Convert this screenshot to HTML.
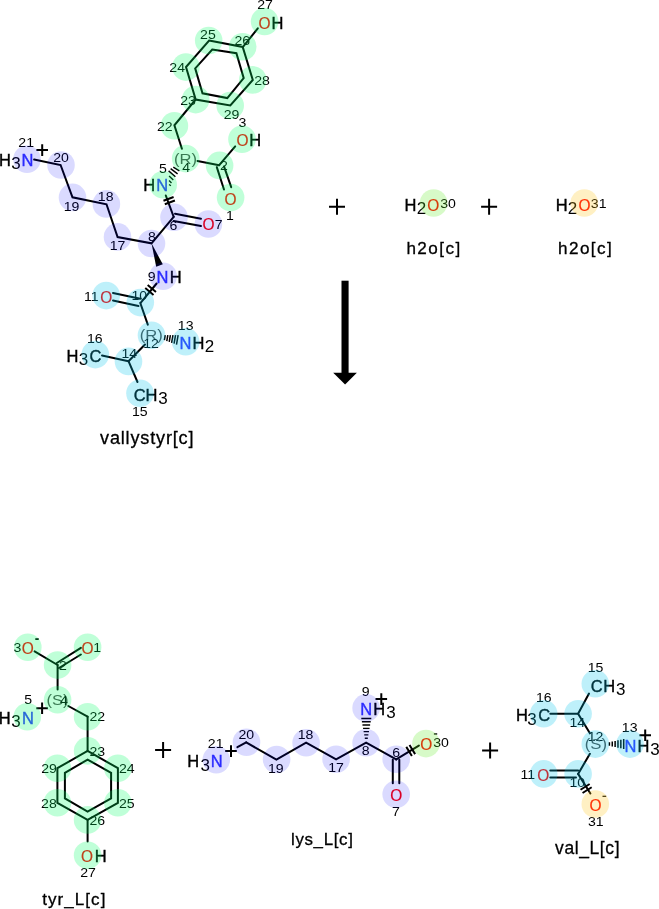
<!DOCTYPE html>
<html><head><meta charset="utf-8"><style>
html,body{margin:0;padding:0;background:#fff;}
svg{display:block;will-change:transform;}
text{font-family:"Liberation Sans",sans-serif;}
</style></head><body>
<svg width="659" height="909" viewBox="0 0 659 909">
<rect width="659" height="909" fill="#fff"/>
<path d="M209.1 40.5 L242.7 46.9 L252.8 79.9 L230.3 105.5 L195.7 99.5 L186 67.1 Z" fill="none" stroke="#000" stroke-width="2" stroke-linejoin="miter" stroke-linecap="round"/>
<path d="M212.2 49.6 L236.4 53.2 L243.7 78.1 L227.3 98.1 L202.5 93.3 L195.2 68.4 Z" fill="none" stroke="#000" stroke-width="2" stroke-linejoin="miter" stroke-linecap="round"/>
<line x1="243" y1="46.9" x2="257.8" y2="28.4" stroke="#000" stroke-width="2" stroke-linecap="round"/>
<path d="M195.7 99.5 L174.4 125.3 L181.9 148.7" fill="none" stroke="#000" stroke-width="2" stroke-linejoin="miter" stroke-linecap="round"/>
<line x1="197.5" y1="160.9" x2="219.2" y2="165.2" stroke="#000" stroke-width="2" stroke-linecap="round"/>
<line x1="219.2" y1="165.2" x2="235.2" y2="146.4" stroke="#000" stroke-width="2" stroke-linecap="round"/>
<line x1="216.8" y1="167.1" x2="224" y2="189.5" stroke="#000" stroke-width="2" stroke-linecap="round"/>
<line x1="224" y1="166.4" x2="231.2" y2="187.2" stroke="#000" stroke-width="2" stroke-linecap="round"/>
<path d="M173.3 167.2L179.4 170.9M170.6 168.6L177.6 173.9M168.6 170.9L175.4 176.8M169.1 176L173.3 180M169.1 180.6L171.5 183M169.1 184.5L170.9 185.8" stroke="#000" stroke-width="1.4"/>
<line x1="165.8" y1="195.5" x2="173.7" y2="216.8" stroke="#000" stroke-width="2" stroke-linecap="round"/>
<path d="M163.48 200.7L173.6 196.94M164.8 204.26L174.92 200.5" stroke="#000" stroke-width="2"/>
<line x1="175" y1="213.7" x2="201" y2="218.7" stroke="#000" stroke-width="2" stroke-linecap="round"/>
<line x1="173.7" y1="221" x2="201" y2="226" stroke="#000" stroke-width="2" stroke-linecap="round"/>
<path d="M173.7 216.8 L151.5 243.3 L117.6 237 L106.5 204.3 L72.5 197.3 L60.6 165 L34.1 159.6" fill="none" stroke="#000" stroke-width="2" stroke-linejoin="miter" stroke-linecap="round"/>
<path d="M151.5 243.3 L156.21 266.69 L162.79 264.31 Z" fill="#000"/>
<line x1="156.6" y1="283.5" x2="140.6" y2="302.8" stroke="#000" stroke-width="2" stroke-linecap="round"/>
<path d="M147.66 285.09L155.97 291.98M145.23 288.02L153.54 294.91" stroke="#000" stroke-width="2"/>
<line x1="140.3" y1="298.8" x2="113" y2="293" stroke="#000" stroke-width="2" stroke-linecap="round"/>
<line x1="138.5" y1="306" x2="113" y2="300.5" stroke="#000" stroke-width="2" stroke-linecap="round"/>
<line x1="140.3" y1="303" x2="147.8" y2="324.7" stroke="#000" stroke-width="2" stroke-linecap="round"/>
<path d="M164.37 340.16L165.23 335.24M166.79 341.05L167.81 335.23M169.21 341.93L170.39 335.23M171.63 342.81L172.97 335.23M174.05 343.69L175.55 335.23M176.48 344.58L178.12 335.22" stroke="#000" stroke-width="1.5"/>
<line x1="145" y1="344.5" x2="128.5" y2="361.2" stroke="#000" stroke-width="2" stroke-linecap="round"/>
<line x1="128.5" y1="361.2" x2="102" y2="355.5" stroke="#000" stroke-width="2" stroke-linecap="round"/>
<line x1="128.5" y1="361.2" x2="137.5" y2="382" stroke="#000" stroke-width="2" stroke-linecap="round"/>
<text transform="translate(258.58,28.85) scale(0.91,1)" font-size="17" fill="#ff0000" stroke="#ff0000" stroke-width="0.2">O</text>
<text transform="translate(271.54,28.95) scale(0.97,1)" font-size="17" fill="#000" stroke="#000" stroke-width="0.4">H</text>
<text transform="translate(257.15,8.86) scale(1.13,1)" font-size="12.5" fill="#000">27</text>
<text transform="translate(200.09,38.8) scale(1.13,1)" font-size="12.5" fill="#000">25</text>
<text transform="translate(234.5,45) scale(1.13,1)" font-size="12.5" fill="#000">26</text>
<text transform="translate(169.3,71.96) scale(1.13,1)" font-size="12.5" fill="#000">24</text>
<text transform="translate(254.2,84.7) scale(1.13,1)" font-size="12.5" fill="#000">28</text>
<text transform="translate(180.2,105.4) scale(1.13,1)" font-size="12.5" fill="#000">23</text>
<text transform="translate(223.63,119.2) scale(1.13,1)" font-size="12.5" fill="#000">29</text>
<text transform="translate(238.42,127.1) scale(1.13,1)" font-size="12.5" fill="#000">3</text>
<text transform="translate(156.95,130.96) scale(1.13,1)" font-size="12.5" fill="#000">22</text>
<text transform="translate(236.58,146.15) scale(0.91,1)" font-size="17" fill="#ff0000" stroke="#ff0000" stroke-width="0.2">O</text>
<text transform="translate(249.24,146.15) scale(0.97,1)" font-size="17" fill="#000" stroke="#000" stroke-width="0.4">H</text>
<text transform="translate(173.89,163.91) scale(1.07,1)" font-size="15.5" fill="#4d4d4d">(R)</text>
<text transform="translate(182.22,171.6) scale(1.13,1)" font-size="12.5" fill="#000">4</text>
<text transform="translate(158.89,173.04) scale(1.13,1)" font-size="12.5" fill="#000">5</text>
<text transform="translate(220.07,169.76) scale(1.13,1)" font-size="12.5" fill="#000">2</text>
<text transform="translate(143.24,191.35) scale(0.97,1)" font-size="17" fill="#000" stroke="#000" stroke-width="0.4">H</text>
<text transform="translate(156.14,191.35) scale(0.97,1)" font-size="17" fill="#3333ff" stroke="#3333ff" stroke-width="0.4">N</text>
<text transform="translate(224.58,204.75) scale(0.91,1)" font-size="17" fill="#ff0000" stroke="#ff0000" stroke-width="0.2">O</text>
<text transform="translate(226.08,219.9) scale(1.13,1)" font-size="12.5" fill="#000">1</text>
<text transform="translate(202.38,230.45) scale(0.91,1)" font-size="17" fill="#ff0000" stroke="#ff0000" stroke-width="0.2">O</text>
<text transform="translate(214.87,229.3) scale(1.13,1)" font-size="12.5" fill="#000">7</text>
<text transform="translate(169.62,229.8) scale(1.13,1)" font-size="12.5" fill="#000">6</text>
<text transform="translate(147.97,240.7) scale(1.13,1)" font-size="12.5" fill="#000">8</text>
<text transform="translate(109.66,249.5) scale(1.13,1)" font-size="12.5" fill="#000">17</text>
<text transform="translate(97.81,200.9) scale(1.13,1)" font-size="12.5" fill="#000">18</text>
<text transform="translate(63.64,210.6) scale(1.13,1)" font-size="12.5" fill="#000">19</text>
<text transform="translate(53.17,162) scale(1.13,1)" font-size="12.5" fill="#000">20</text>
<text transform="translate(18.34,146.86) scale(1.13,1)" font-size="12.5" fill="#000">21</text>
<path d="M36.4 150.1H48M42.2 144.3V155.9" stroke="#000" stroke-width="2"/>
<text transform="translate(-1.06,165.85) scale(0.97,1)" font-size="17" fill="#000" stroke="#000" stroke-width="0.4">H</text>
<text x="11.32" y="169.25" font-size="17" fill="#000">3</text>
<text transform="translate(21.54,165.85) scale(0.97,1)" font-size="17" fill="#3333ff" stroke="#3333ff" stroke-width="0.4">N</text>
<text transform="translate(147.77,280.6) scale(1.13,1)" font-size="12.5" fill="#000">9</text>
<text transform="translate(156.44,282.55) scale(0.97,1)" font-size="17" fill="#3333ff" stroke="#3333ff" stroke-width="0.4">N</text>
<text transform="translate(169.64,282.65) scale(0.97,1)" font-size="17" fill="#000" stroke="#000" stroke-width="0.4">H</text>
<text transform="translate(100.18,302.55) scale(0.91,1)" font-size="17" fill="#ff0000" stroke="#ff0000" stroke-width="0.2">O</text>
<text transform="translate(83.88,301.1) scale(1.13,1)" font-size="12.5" fill="#000">11</text>
<text transform="translate(131.39,299.8) scale(1.13,1)" font-size="12.5" fill="#000">10</text>
<text transform="translate(139.63,340.36) scale(1.15,1)" font-size="14.5" fill="#4d4d4d">(R)</text>
<text transform="translate(143.26,347.66) scale(1.13,1)" font-size="12.5" fill="#000">12</text>
<text transform="translate(177.82,329.7) scale(1.13,1)" font-size="12.5" fill="#000">13</text>
<text transform="translate(179.54,348.75) scale(0.97,1)" font-size="17" fill="#3333ff" stroke="#3333ff" stroke-width="0.4">N</text>
<text transform="translate(192.44,348.75) scale(0.97,1)" font-size="17" fill="#000" stroke="#000" stroke-width="0.4">H</text>
<text x="204.77" y="352.23" font-size="17" fill="#000">2</text>
<text transform="translate(86.92,343) scale(1.13,1)" font-size="12.5" fill="#000">16</text>
<text transform="translate(66.54,361.85) scale(0.97,1)" font-size="17" fill="#000" stroke="#000" stroke-width="0.4">H</text>
<text x="78.83" y="365.35" font-size="17" fill="#000">3</text>
<text transform="translate(89.44,361.85) scale(0.97,1)" font-size="17" fill="#000" stroke="#000" stroke-width="0.4">C</text>
<text transform="translate(121.41,357.8) scale(1.13,1)" font-size="12.5" fill="#000">14</text>
<text transform="translate(133.84,400.85) scale(0.97,1)" font-size="17" fill="#000" stroke="#000" stroke-width="0.4">C</text>
<text transform="translate(145.54,400.85) scale(0.97,1)" font-size="17" fill="#000" stroke="#000" stroke-width="0.4">H</text>
<text x="158.32" y="404.35" font-size="17" fill="#000">3</text>
<text transform="translate(131.91,415.84) scale(1.13,1)" font-size="12.5" fill="#000">15</text>
<text transform="translate(100.03,443.9) scale(1,1)" font-size="18.07" font-weight="normal" letter-spacing="0.83" fill="#000" stroke="#000" stroke-width="0.3">vallystyr[c]</text>
<path d="M329 206.8H345M337 198.8V214.8" stroke="#000" stroke-width="2"/>
<text transform="translate(404.54,210.95) scale(0.97,1)" font-size="17" fill="#000" stroke="#000" stroke-width="0.4">H</text>
<text x="416.77" y="214.23" font-size="17" fill="#000">2</text>
<text transform="translate(427.18,211.05) scale(0.91,1)" font-size="17" fill="#ff0000" stroke="#ff0000" stroke-width="0.2">O</text>
<text transform="translate(440.15,207.9) scale(1.13,1)" font-size="12.5" fill="#000">30</text>
<text transform="translate(406.42,253.6) scale(1,1)" font-size="17.1" font-weight="normal" letter-spacing="1.44" fill="#000" stroke="#000" stroke-width="0.3">h2o[c]</text>
<path d="M481.1 206.8H497.1M489.1 198.8V214.8" stroke="#000" stroke-width="2"/>
<text transform="translate(555.64,210.95) scale(0.97,1)" font-size="17" fill="#000" stroke="#000" stroke-width="0.4">H</text>
<text x="567.87" y="214.23" font-size="17" fill="#000">2</text>
<text transform="translate(578.48,211.05) scale(0.91,1)" font-size="17" fill="#ff0000" stroke="#ff0000" stroke-width="0.2">O</text>
<text transform="translate(590.82,207.9) scale(1.13,1)" font-size="12.5" fill="#000">31</text>
<text transform="translate(558.02,253.6) scale(1,1)" font-size="17.1" font-weight="normal" letter-spacing="1.44" fill="#000" stroke="#000" stroke-width="0.3">h2o[c]</text>
<rect x="341.5" y="280.7" width="7.1" height="93" fill="#000"/>
<path d="M333.2 372.7 L356.9 372.7 L345.1 384.5 Z" fill="#000"/>
<line x1="34.6" y1="651.4" x2="57.6" y2="665" stroke="#000" stroke-width="2" stroke-linecap="round"/>
<line x1="56.8" y1="663" x2="80.9" y2="647.8" stroke="#000" stroke-width="2" stroke-linecap="round"/>
<line x1="59" y1="668" x2="80.9" y2="654.5" stroke="#000" stroke-width="2" stroke-linecap="round"/>
<line x1="57.6" y1="665" x2="57.6" y2="689.4" stroke="#000" stroke-width="2" stroke-linecap="round"/>
<line x1="68.3" y1="706" x2="87.6" y2="716.7" stroke="#000" stroke-width="2" stroke-linecap="round"/>
<line x1="87.6" y1="716.7" x2="87.6" y2="750.9" stroke="#000" stroke-width="2" stroke-linecap="round"/>
<path d="M87.6 750.9 L117.9 768.2 L117.9 802.8 L87.6 819.9 L57.4 802.8 L57.4 768.2 Z" fill="none" stroke="#000" stroke-width="2" stroke-linejoin="miter" stroke-linecap="round"/>
<path d="M87.6 759.6 L111.1 772.8 L111.1 798.3 L87.6 811.5 L64.9 798.3 L64.9 772.8 Z" fill="none" stroke="#000" stroke-width="2" stroke-linejoin="miter" stroke-linecap="round"/>
<line x1="87.6" y1="819.9" x2="87.6" y2="841.5" stroke="#000" stroke-width="2" stroke-linecap="round"/>
<text transform="translate(13.62,651.6) scale(1.13,1)" font-size="12.5" fill="#000">3</text>
<text transform="translate(21.68,653.65) scale(0.91,1)" font-size="17" fill="#ff0000" stroke="#ff0000" stroke-width="0.2">O</text>
<rect x="35.3" y="638.2" width="3.4" height="1.8" fill="#000"/>
<text transform="translate(81.58,653.65) scale(0.91,1)" font-size="17" fill="#ff0000" stroke="#ff0000" stroke-width="0.2">O</text>
<text transform="translate(93.28,651.6) scale(1.13,1)" font-size="12.5" fill="#000">1</text>
<text transform="translate(59.07,670.06) scale(1.13,1)" font-size="12.5" fill="#000">2</text>
<text transform="translate(46.39,704.76) scale(1.15,1)" font-size="14.5" fill="#4d4d4d">(S)</text>
<text transform="translate(60.12,704.8) scale(1.13,1)" font-size="12.5" fill="#000">4</text>
<text transform="translate(24.29,703.84) scale(1.13,1)" font-size="12.5" fill="#000">5</text>
<path d="M36.3 708.2H47.9M42.1 702.4V714" stroke="#000" stroke-width="2"/>
<text transform="translate(-1.36,723.75) scale(0.97,1)" font-size="17" fill="#000" stroke="#000" stroke-width="0.4">H</text>
<text x="11.32" y="726.55" font-size="17" fill="#000">3</text>
<text transform="translate(21.94,723.75) scale(0.97,1)" font-size="17" fill="#3333ff" stroke="#3333ff" stroke-width="0.4">N</text>
<text transform="translate(89.45,721.06) scale(1.13,1)" font-size="12.5" fill="#000">22</text>
<text transform="translate(89.4,755.9) scale(1.13,1)" font-size="12.5" fill="#000">23</text>
<text transform="translate(41.13,773) scale(1.13,1)" font-size="12.5" fill="#000">29</text>
<text transform="translate(41.1,808.3) scale(1.13,1)" font-size="12.5" fill="#000">28</text>
<text transform="translate(118.9,773.06) scale(1.13,1)" font-size="12.5" fill="#000">24</text>
<text transform="translate(118.99,808.3) scale(1.13,1)" font-size="12.5" fill="#000">25</text>
<text transform="translate(89.4,825.3) scale(1.13,1)" font-size="12.5" fill="#000">26</text>
<text transform="translate(80.98,861.85) scale(0.91,1)" font-size="17" fill="#ff0000" stroke="#ff0000" stroke-width="0.2">O</text>
<text transform="translate(94.84,861.85) scale(0.97,1)" font-size="17" fill="#000" stroke="#000" stroke-width="0.4">H</text>
<text transform="translate(80.15,877.36) scale(1.13,1)" font-size="12.5" fill="#000">27</text>
<text transform="translate(42.24,905) scale(1,1)" font-size="17.01" font-weight="normal" letter-spacing="1.06" fill="#000" stroke="#000" stroke-width="0.3">tyr_L[c]</text>
<path d="M155.1 749.9H171.1M163.1 741.9V757.9" stroke="#000" stroke-width="2"/>
<line x1="237.4" y1="747.2" x2="246.2" y2="742.4" stroke="#000" stroke-width="2" stroke-linecap="round"/>
<path d="M246.2 742.4 L276.4 759.6 L306.1 742.6 L336.1 759.4 L366.1 742.6 L396.2 759.4" fill="none" stroke="#000" stroke-width="2" stroke-linejoin="miter" stroke-linecap="round"/>
<path d="M367.8 738.2L364.8 738.2M368.38 734.92L364.22 734.92M368.97 731.63L363.63 731.63M369.55 728.35L363.05 728.35M370.13 725.07L362.47 725.07M370.72 721.78L361.88 721.78M371.3 718.5L361.3 718.5" stroke="#000" stroke-width="1.4"/>
<line x1="392.8" y1="759.8" x2="392.8" y2="783.3" stroke="#000" stroke-width="2" stroke-linecap="round"/>
<line x1="399.3" y1="759.8" x2="399.3" y2="783.3" stroke="#000" stroke-width="2" stroke-linecap="round"/>
<line x1="396.2" y1="759.4" x2="418.9" y2="745.6" stroke="#000" stroke-width="2" stroke-linecap="round"/>
<path d="M411.88 756.1L406.27 746.87M415.13 754.13L409.52 744.9" stroke="#000" stroke-width="2"/>
<text transform="translate(187.34,767.05) scale(0.97,1)" font-size="17" fill="#000" stroke="#000" stroke-width="0.4">H</text>
<text x="200.52" y="770.95" font-size="17" fill="#000">3</text>
<text transform="translate(210.64,767.05) scale(0.97,1)" font-size="17" fill="#3333ff" stroke="#3333ff" stroke-width="0.4">N</text>
<text transform="translate(207.84,747.86) scale(1.13,1)" font-size="12.5" fill="#000">21</text>
<path d="M225.2 751.1H236.8M231 745.3V756.9" stroke="#000" stroke-width="2"/>
<text transform="translate(238.47,739.2) scale(1.13,1)" font-size="12.5" fill="#000">20</text>
<text transform="translate(267.94,773) scale(1.13,1)" font-size="12.5" fill="#000">19</text>
<text transform="translate(297.71,738.9) scale(1.13,1)" font-size="12.5" fill="#000">18</text>
<text transform="translate(328.16,772.4) scale(1.13,1)" font-size="12.5" fill="#000">17</text>
<text transform="translate(361.67,755.3) scale(1.13,1)" font-size="12.5" fill="#000">8</text>
<text transform="translate(392.22,756.9) scale(1.13,1)" font-size="12.5" fill="#000">6</text>
<text transform="translate(360.34,715.25) scale(0.97,1)" font-size="17" fill="#3333ff" stroke="#3333ff" stroke-width="0.4">N</text>
<text transform="translate(373.24,715.25) scale(0.97,1)" font-size="17" fill="#000" stroke="#000" stroke-width="0.4">H</text>
<text x="386.22" y="717.95" font-size="17" fill="#000">3</text>
<text transform="translate(361.67,695.9) scale(1.13,1)" font-size="12.5" fill="#000">9</text>
<path d="M375.5 699.1H387.1M381.3 693.3V704.9" stroke="#000" stroke-width="2"/>
<text transform="translate(390.28,800.55) scale(0.91,1)" font-size="17" fill="#ff0000" stroke="#ff0000" stroke-width="0.2">O</text>
<text transform="translate(392.07,816.1) scale(1.13,1)" font-size="12.5" fill="#000">7</text>
<text transform="translate(420.28,750.05) scale(0.91,1)" font-size="17" fill="#ff0000" stroke="#ff0000" stroke-width="0.2">O</text>
<rect x="433.9" y="733.3" width="3.3" height="1.3" fill="#000"/>
<text transform="translate(433.25,746.8) scale(1.13,1)" font-size="12.5" fill="#000">30</text>
<text transform="translate(290.97,844.6) scale(1,1)" font-size="16.86" font-weight="normal" letter-spacing="0.67" fill="#000" stroke="#000" stroke-width="0.3">lys_L[c]</text>
<path d="M482.1 750.4H498.1M490.1 742.4V758.4" stroke="#000" stroke-width="2"/>
<path d="M589 693.6 L578.1 713.7 L589.9 733.2" fill="none" stroke="#000" stroke-width="2" stroke-linejoin="miter" stroke-linecap="round"/>
<line x1="578.1" y1="713.7" x2="550.3" y2="713.7" stroke="#000" stroke-width="2" stroke-linecap="round"/>
<path d="M609.4 745.8L609.4 742.2M612.26 746.44L612.26 741.56M615.12 747.08L615.12 740.92M617.98 747.72L617.98 740.28M620.84 748.36L620.84 739.64M623.7 749L623.7 739" stroke="#000" stroke-width="1.5"/>
<line x1="589.9" y1="753.8" x2="578.1" y2="773.9" stroke="#000" stroke-width="2" stroke-linecap="round"/>
<line x1="550.3" y1="770.4" x2="578.1" y2="770.4" stroke="#000" stroke-width="2" stroke-linecap="round"/>
<line x1="550.3" y1="777.6" x2="576" y2="777.6" stroke="#000" stroke-width="2" stroke-linecap="round"/>
<line x1="578.1" y1="773.9" x2="590.4" y2="793.5" stroke="#000" stroke-width="2" stroke-linecap="round"/>
<path d="M580.52 789.76L589.66 784.02M582.54 792.98L591.68 787.24" stroke="#000" stroke-width="2"/>
<text transform="translate(590.84,691.75) scale(0.97,1)" font-size="17" fill="#000" stroke="#000" stroke-width="0.4">C</text>
<text transform="translate(603.14,691.75) scale(0.97,1)" font-size="17" fill="#000" stroke="#000" stroke-width="0.4">H</text>
<text x="615.93" y="695.35" font-size="17" fill="#000">3</text>
<text transform="translate(587.71,671.84) scale(1.13,1)" font-size="12.5" fill="#000">15</text>
<text transform="translate(536.02,702) scale(1.13,1)" font-size="12.5" fill="#000">16</text>
<text transform="translate(516.04,721.05) scale(0.97,1)" font-size="17" fill="#000" stroke="#000" stroke-width="0.4">H</text>
<text x="527.33" y="724.65" font-size="17" fill="#000">3</text>
<text transform="translate(538.14,721.05) scale(0.97,1)" font-size="17" fill="#000" stroke="#000" stroke-width="0.4">C</text>
<text transform="translate(569.41,726.7) scale(1.13,1)" font-size="12.5" fill="#000">14</text>
<text transform="translate(587.76,740.76) scale(1.13,1)" font-size="12.5" fill="#000">12</text>
<text transform="translate(584.79,748.86) scale(1.15,1)" font-size="14.5" fill="#4d4d4d">(S)</text>
<text transform="translate(621.82,732.4) scale(1.13,1)" font-size="12.5" fill="#000">13</text>
<path d="M639.4 735.3H651M645.2 729.5V741.1" stroke="#000" stroke-width="2"/>
<text transform="translate(624.44,751.65) scale(0.97,1)" font-size="17" fill="#3333ff" stroke="#3333ff" stroke-width="0.4">N</text>
<text transform="translate(637.54,751.65) scale(0.97,1)" font-size="17" fill="#000" stroke="#000" stroke-width="0.4">H</text>
<text x="650.33" y="755.25" font-size="17" fill="#000">3</text>
<text transform="translate(520.48,778.8) scale(1.13,1)" font-size="12.5" fill="#000">11</text>
<text transform="translate(537.18,780.55) scale(0.91,1)" font-size="17" fill="#ff0000" stroke="#ff0000" stroke-width="0.2">O</text>
<text transform="translate(569.49,787.4) scale(1.13,1)" font-size="12.5" fill="#000">10</text>
<text transform="translate(589.48,810.75) scale(0.91,1)" font-size="17" fill="#ff0000" stroke="#ff0000" stroke-width="0.2">O</text>
<rect x="602.5" y="795.7" width="3.7" height="1.2" fill="#000"/>
<text transform="translate(588.02,825.6) scale(1.13,1)" font-size="12.5" fill="#000">31</text>
<text transform="translate(555.03,853.8) scale(1,1)" font-size="17.44" font-weight="normal" letter-spacing="0.63" fill="#000" stroke="#000" stroke-width="0.3">val_L[c]</text>
<circle cx="264.6" cy="21.5" r="13.8" fill="rgb(0,255,100)" fill-opacity="0.25"/>
<circle cx="242.7" cy="46.8" r="13.8" fill="rgb(0,255,100)" fill-opacity="0.25"/>
<circle cx="208.7" cy="40.5" r="13.8" fill="rgb(0,255,100)" fill-opacity="0.25"/>
<circle cx="185.9" cy="67.1" r="13.8" fill="rgb(0,255,100)" fill-opacity="0.25"/>
<circle cx="195.7" cy="99.6" r="13.8" fill="rgb(0,255,100)" fill-opacity="0.25"/>
<circle cx="230.2" cy="105.5" r="13.8" fill="rgb(0,255,100)" fill-opacity="0.25"/>
<circle cx="252.8" cy="79.9" r="13.8" fill="rgb(0,255,100)" fill-opacity="0.25"/>
<circle cx="174.4" cy="125.7" r="13.8" fill="rgb(0,255,100)" fill-opacity="0.25"/>
<circle cx="185.7" cy="158.6" r="13.8" fill="rgb(0,255,100)" fill-opacity="0.25"/>
<circle cx="219.6" cy="165.4" r="13.8" fill="rgb(0,255,100)" fill-opacity="0.25"/>
<circle cx="242" cy="139.2" r="13.8" fill="rgb(0,255,100)" fill-opacity="0.25"/>
<circle cx="230.6" cy="197.6" r="13.8" fill="rgb(0,255,100)" fill-opacity="0.25"/>
<circle cx="163.2" cy="184.7" r="13.8" fill="rgb(0,255,100)" fill-opacity="0.25"/>
<circle cx="174" cy="217.2" r="13.8" fill="rgb(0,0,255)" fill-opacity="0.145"/>
<circle cx="208.4" cy="224" r="13.8" fill="rgb(0,0,255)" fill-opacity="0.145"/>
<circle cx="151.5" cy="243.5" r="13.8" fill="rgb(0,0,255)" fill-opacity="0.145"/>
<circle cx="117.5" cy="236.9" r="13.8" fill="rgb(0,0,255)" fill-opacity="0.145"/>
<circle cx="106.4" cy="203.9" r="13.8" fill="rgb(0,0,255)" fill-opacity="0.145"/>
<circle cx="72.5" cy="197.4" r="13.8" fill="rgb(0,0,255)" fill-opacity="0.145"/>
<circle cx="61" cy="165" r="13.8" fill="rgb(0,0,255)" fill-opacity="0.145"/>
<circle cx="27" cy="159.2" r="13.8" fill="rgb(0,0,255)" fill-opacity="0.145"/>
<circle cx="163.1" cy="276.3" r="13.8" fill="rgb(0,0,255)" fill-opacity="0.145"/>
<circle cx="140.3" cy="302.6" r="13.8" fill="rgb(0,196,235)" fill-opacity="0.255"/>
<circle cx="106.2" cy="295.6" r="13.8" fill="rgb(0,196,235)" fill-opacity="0.255"/>
<circle cx="151.5" cy="335.3" r="13.8" fill="rgb(0,196,235)" fill-opacity="0.255"/>
<circle cx="185.7" cy="341.8" r="13.8" fill="rgb(0,196,235)" fill-opacity="0.255"/>
<circle cx="128.5" cy="361.4" r="13.8" fill="rgb(0,196,235)" fill-opacity="0.255"/>
<circle cx="140" cy="393.3" r="13.8" fill="rgb(0,196,235)" fill-opacity="0.255"/>
<circle cx="95.3" cy="354.6" r="13.8" fill="rgb(0,196,235)" fill-opacity="0.255"/>
<circle cx="433.6" cy="203" r="13.8" fill="rgb(98,235,39)" fill-opacity="0.255"/>
<circle cx="584.3" cy="203" r="13.8" fill="rgb(255,196,20)" fill-opacity="0.255"/>
<circle cx="27.8" cy="647.3" r="13.8" fill="rgb(0,255,100)" fill-opacity="0.25"/>
<circle cx="87.6" cy="647.3" r="13.8" fill="rgb(0,255,100)" fill-opacity="0.25"/>
<circle cx="57.6" cy="665.1" r="13.8" fill="rgb(0,255,100)" fill-opacity="0.25"/>
<circle cx="57.6" cy="699.7" r="13.8" fill="rgb(0,255,100)" fill-opacity="0.25"/>
<circle cx="27.3" cy="716.7" r="13.8" fill="rgb(0,255,100)" fill-opacity="0.25"/>
<circle cx="87.6" cy="716.7" r="13.8" fill="rgb(0,255,100)" fill-opacity="0.25"/>
<circle cx="87.6" cy="750.9" r="13.8" fill="rgb(0,255,100)" fill-opacity="0.25"/>
<circle cx="117.9" cy="768.2" r="13.8" fill="rgb(0,255,100)" fill-opacity="0.25"/>
<circle cx="117.9" cy="802.8" r="13.8" fill="rgb(0,255,100)" fill-opacity="0.25"/>
<circle cx="87.6" cy="819.9" r="13.8" fill="rgb(0,255,100)" fill-opacity="0.25"/>
<circle cx="57.4" cy="802.8" r="13.8" fill="rgb(0,255,100)" fill-opacity="0.25"/>
<circle cx="57.4" cy="768.2" r="13.8" fill="rgb(0,255,100)" fill-opacity="0.25"/>
<circle cx="87.6" cy="855.2" r="13.8" fill="rgb(0,255,100)" fill-opacity="0.25"/>
<circle cx="216.3" cy="759.7" r="13.8" fill="rgb(0,0,255)" fill-opacity="0.145"/>
<circle cx="246.5" cy="742.2" r="13.8" fill="rgb(0,0,255)" fill-opacity="0.145"/>
<circle cx="276.6" cy="759.5" r="13.8" fill="rgb(0,0,255)" fill-opacity="0.145"/>
<circle cx="306.1" cy="742.8" r="13.8" fill="rgb(0,0,255)" fill-opacity="0.145"/>
<circle cx="336.1" cy="759.2" r="13.8" fill="rgb(0,0,255)" fill-opacity="0.145"/>
<circle cx="366.1" cy="742.8" r="13.8" fill="rgb(0,0,255)" fill-opacity="0.145"/>
<circle cx="396.2" cy="759.2" r="13.8" fill="rgb(0,0,255)" fill-opacity="0.145"/>
<circle cx="396.2" cy="794.2" r="13.8" fill="rgb(0,0,255)" fill-opacity="0.145"/>
<circle cx="366.1" cy="707.9" r="13.8" fill="rgb(0,0,255)" fill-opacity="0.145"/>
<circle cx="426" cy="743.6" r="13.8" fill="rgb(98,235,39)" fill-opacity="0.255"/>
<circle cx="595.3" cy="683.8" r="13.8" fill="rgb(0,196,235)" fill-opacity="0.255"/>
<circle cx="543.7" cy="713.7" r="13.8" fill="rgb(0,196,235)" fill-opacity="0.255"/>
<circle cx="578.1" cy="713.7" r="13.8" fill="rgb(0,196,235)" fill-opacity="0.255"/>
<circle cx="595.3" cy="744.1" r="13.8" fill="rgb(0,196,235)" fill-opacity="0.255"/>
<circle cx="630" cy="744.1" r="13.8" fill="rgb(0,196,235)" fill-opacity="0.255"/>
<circle cx="578.1" cy="773.9" r="13.8" fill="rgb(0,196,235)" fill-opacity="0.255"/>
<circle cx="543.7" cy="773.9" r="13.8" fill="rgb(0,196,235)" fill-opacity="0.255"/>
<circle cx="595.3" cy="804" r="13.8" fill="rgb(255,196,20)" fill-opacity="0.255"/>
</svg>
</body></html>
